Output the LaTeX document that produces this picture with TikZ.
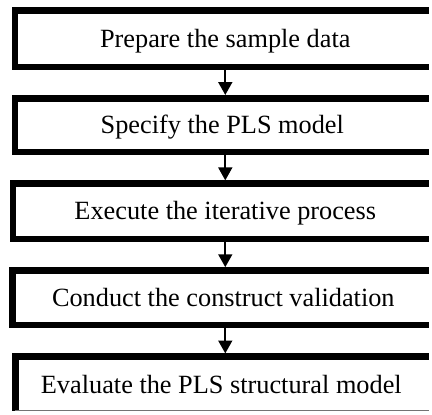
\documentclass[tikz,border=0pt]{standalone}
\usepackage{fontspec}
\setmainfont{Liberation Serif}
\usetikzlibrary{arrows.meta}
\begin{document}
\begin{tikzpicture}[x=1pt,y=-1pt,
  stepbox/.style={rectangle,draw=none,inner sep=0pt,outer sep=0pt},
  rim/.style={line width=6.6pt,line join=miter,line cap=butt},
  steptext/.style={anchor=base,inner sep=0pt,font=\fontsize{26.5}{30}\selectfont},
  flow/.style={line width=2pt,-{Triangle[width=14pt,length=13pt]}}]
  \path[fill=white] (0,0) rectangle (432,414);
  % step boxes, open towards the right edge of the sheet
  \node[stepbox,minimum width=416.8pt,minimum height=56.7pt] (b1) at (223.6,39.15) {};
  \node[stepbox,minimum width=416.8pt,minimum height=54pt]   (b2) at (223.6,126) {};
  \node[stepbox,minimum width=418.7pt,minimum height=55.7pt] (b3) at (222.65,212.85) {};
  \node[stepbox,minimum width=419.5pt,minimum height=55pt]   (b4) at (222.25,300) {};
  \node[stepbox,minimum width=416.4pt,minimum height=54.6pt] (b5) at (223.8,386.7) {};
  \foreach \b in {b1,b2,b3,b4}
    \draw[rim] (\b.north east) -- (\b.north west) -- (\b.south west) -- (\b.south east);
  \draw[rim] (b5.north east) -- (b5.north west) -- (b5.south west);
  \draw[line width=0.8pt,black!55] ([yshift=0.4pt]b5.south west) -- ([yshift=0.4pt]b5.south east);
  % labels
  \node[steptext] (t1) at (227,48)    {Prepare the sample data};
  \node[steptext] (t2) at (224,134.8) {Specify the PLS model};
  \node[steptext] (t3) at (227,221.6) {Execute the iterative process};
  \node[steptext] (t4) at (225,308.8) {Conduct the construct validation};
  \node[steptext] (t5) at (223,397)   {Evaluate the PLS structural model};
  % arrows, from the outer rim of one box to the outer rim of the next
  \coordinate (ax) at (227,0);
  \draw[flow] ([yshift=-3.3pt]ax |- b1.south) -- ([yshift=3.3pt]ax |- b2.north);
  \draw[flow] ([yshift=-3.3pt]ax |- b2.south) -- ([yshift=3.3pt]ax |- b3.north);
  \draw[flow] ([yshift=-3.3pt]ax |- b3.south) -- ([yshift=3.3pt]ax |- b4.north);
  \draw[flow] ([yshift=-3.3pt]ax |- b4.south) -- ([yshift=3.3pt]ax |- b5.north);
\end{tikzpicture}
\end{document}
